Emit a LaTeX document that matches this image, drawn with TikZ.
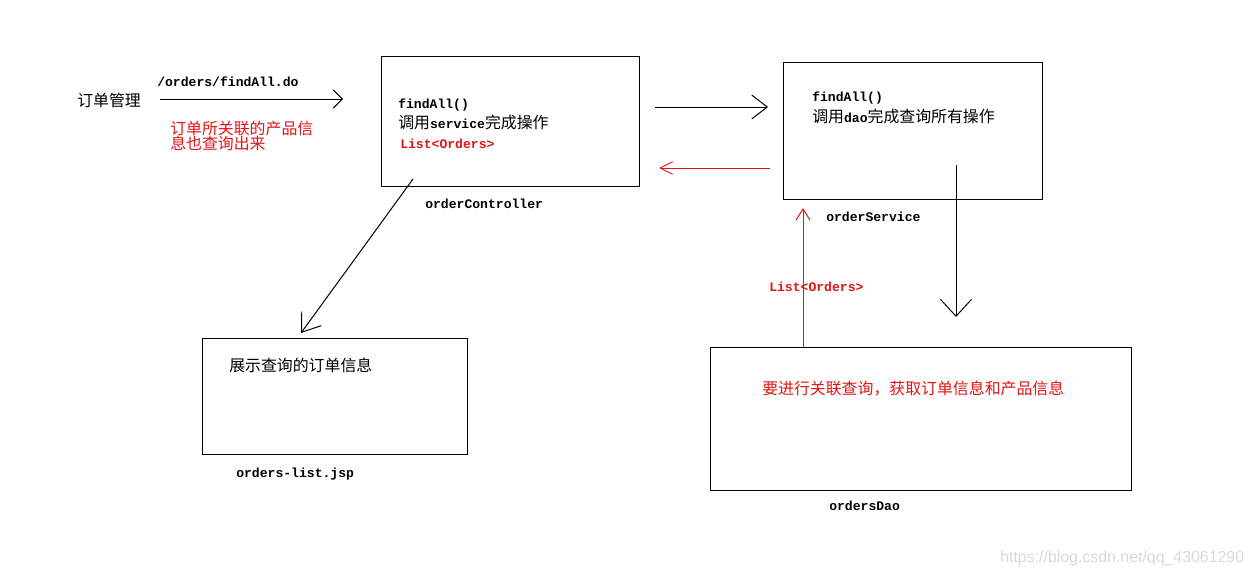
\documentclass[tikz,border=0pt]{standalone}
\usepackage{fontspec}
\setmainfont{Noto Sans CJK SC}
\setmonofont{Liberation Mono}
\newfontfamily\markfont{Liberation Sans}
\usepackage{xcolor}
\usetikzlibrary{arrows.meta}

\definecolor{paintred}{RGB}{225,20,20}
\newcommand{\codetxt}[1]{{\ttfamily\bfseries\fontsize{9.3}{11}\selectfont #1}}

\begin{document}
\begin{tikzpicture}[
    x=0.025cm, y=-0.025cm,
    box/.style={rectangle, draw, line width=0.7pt, inner sep=0pt, anchor=north west},
    txt/.style={anchor=west, inner sep=0pt, font=\fontsize{11.3}{13}\selectfont},
    note/.style={txt, text=paintred},
    code/.style={anchor=west, inner sep=0pt, font=\ttfamily\bfseries\fontsize{9.3}{11}\selectfont},
    arrow/.style 2 args={-{Straight Barb[length=#1, width=#2]}, line width=0.7pt},
    watermark/.style={anchor=west, inner sep=0pt, font=\markfont\fontsize{11.3}{13}\selectfont, text=gray!30}
]
    \useasboundingbox (0,0) rectangle (1253,577);

    % Request
    \node[txt] (menu) at (77,100) {订单管理};
    \node[code] (url) at (157,82) {/orders/findAll.do};
    \coordinate (req_a) at (160,99);
    \coordinate (req_b) at (343,99);
    \draw[arrow={6.5pt}{13pt}] (req_a) -- (req_b);
    \node[note] (hint_a) at (170,128) {订单所关联的产品信};
    \node[note] (hint_b) at (170,143) {息也查询出来};

    % orderController
    \node[box, minimum width=6.45cm, minimum height=3.25cm] (ctrl) at (381,56) {};
    \node[code] (ctrl_call) at (398,105) {findAll()};
    \node[txt] (ctrl_do) at (398,122) {调用\codetxt{service}完成操作};
    \node[code, text=paintred] (ctrl_ret) at (400,144) {List<Orders>};
    \node[code] (ctrl_name) at (425,204) {orderController};

    % orderService
    \node[box, minimum width=6.475cm, minimum height=3.425cm] (svc) at (783,62) {};
    \node[code] (svc_call) at (812,98) {findAll()};
    \node[txt] (svc_do) at (812,116) {调用\codetxt{dao}完成查询所有操作};
    \node[code] (svc_name) at (826,217) {orderService};

    % ordersDao
    \node[box, minimum width=10.525cm, minimum height=3.575cm] (dao) at (710,347) {};
    \node[note] (dao_do) at (762,389) {要进行关联查询，获取订单信息和产品信息};
    \node[code] (dao_name) at (829,506) {ordersDao};
    \node[code, text=paintred] (dao_ret) at (769,287) {List<Orders>};

    % orders-list.jsp
    \node[box, minimum width=6.625cm, minimum height=2.9cm] (jsp) at (202,338) {};
    \node[txt] (jsp_do) at (229,365) {展示查询的订单信息};
    \node[code] (jsp_name) at (236,474) {orders-list.jsp};

    % Calls and returns
    \coordinate (c2s_a) at (655,107);
    \coordinate (c2s_b) at (768,107);
    \coordinate (s2c_a) at (770,168);
    \coordinate (s2c_b) at (659,168);
    \coordinate (s2d_a) at (956,165);
    \coordinate (s2d_b) at (956,317);
    \coordinate (d2s_a) at (803,347);
    \coordinate (d2s_b) at (803,208);
    \coordinate (c2j_a) at (413,179);
    \coordinate (c2j_b) at (301,333);
    \draw[arrow={11pt}{17pt}] (c2s_a) -- (c2s_b);
    \draw[arrow={9pt}{9pt}, paintred] (s2c_a) -- (s2c_b);
    \draw[arrow={12pt}{22pt}] (s2d_a) -- (s2d_b);
    \draw[arrow={8pt}{10pt}, paintred] (d2s_a) -- (d2s_b);
    \draw[arrow={12pt}{17pt}] (c2j_a) -- (c2j_b);

    \node[watermark] (wm) at (1000,558) {https://blog.csdn.net/qq\_43061290};
\end{tikzpicture}
\end{document}
